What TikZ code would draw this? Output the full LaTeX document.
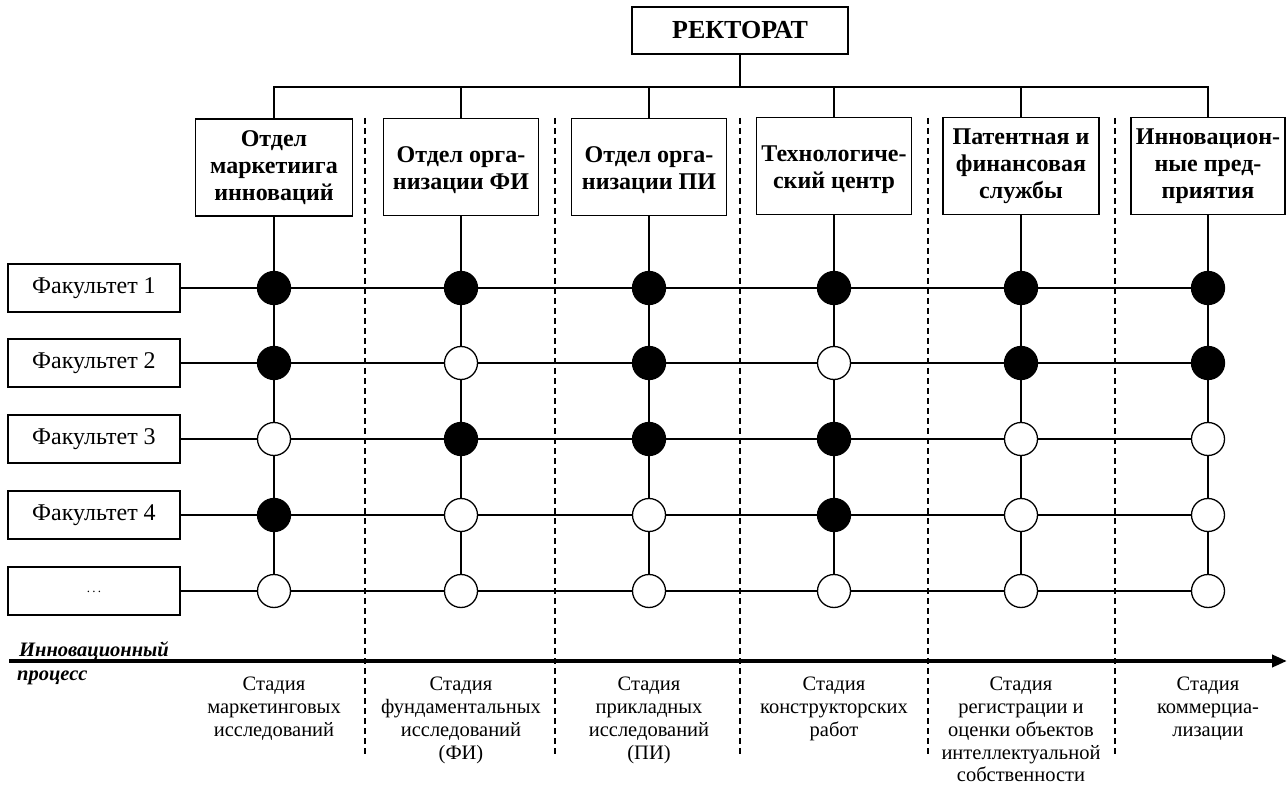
\documentclass[tikz,border=0pt]{standalone}
\usepackage{fontspec}
\setmainfont{Liberation Serif}
\usetikzlibrary{arrows.meta}
\newcommand\topstrut{\rule{0pt}{23pt}}
\begin{document}
\begin{tikzpicture}[x=1pt,y=-1pt,
  every node/.style={inner sep=0pt},
  hbox/.style={draw, line width=1.6pt, align=center, minimum height=97pt,
    font=\fontsize{24}{27}\selectfont\bfseries},
  fbox/.style={draw, line width=1.4pt, minimum width=172pt, minimum height=48pt,
    font=\fontsize{24}{28}\selectfont},
  dot/.style={circle, draw, line width=1.3pt, minimum size=33pt},
  full/.style={dot, fill=black},
  empty/.style={dot, fill=white},
  conn/.style={line width=1.3pt},
  sep/.style={line width=1.2pt, dash pattern=on 6pt off 4pt},
  stage/.style={align=center, anchor=north, font=\fontsize{20.5}{22.8}\selectfont},
  proc/.style={anchor=base west, font=\fontsize{20.5}{23}\selectfont\bfseries\itshape},
]
\useasboundingbox (0,0) rectangle (1288,786);

% rectorate
\node[draw, line width=1.6pt, minimum width=216pt, minimum height=47pt,
  font=\fontsize{26}{30}\selectfont\bfseries] (rek) at (740,30.5) {РЕКТОРАТ};

% department boxes
\node[hbox, minimum width=157pt] (h1) at (274,167.5) {Отдел\\маркетиига\\инноваций};
\node[hbox, minimum width=155pt] (h2) at (461,167) {\topstrut Отдел орга-\\низации ФИ};
\node[hbox, minimum width=155pt] (h3) at (649,167) {\topstrut Отдел орга-\\низации ПИ};
\node[hbox, minimum width=155pt] (h4) at (834,166) {\topstrut Технологиче-\\ский центр};
\node[hbox, minimum width=156pt] (h5) at (1021,166) {Патентная и\\финансовая\\службы};
\node[hbox, minimum width=154pt] (h6) at (1208,166) {Инновацион-\\ные пред-\\приятия};

% tree
\coordinate (bar) at (740,87);
\draw[conn] (rek) -- (bar);
\draw[conn] (h1.north) |- (bar) -| (h6.north);
\foreach \c in {2,...,5} \draw[conn] (h\c.north) -- (h\c.north |- bar);

% faculties
\node[fbox] (f1) at (94,288) {Факультет 1};
\node[fbox] (f2) at (94,363) {Факультет 2};
\node[fbox] (f3) at (94,439) {Факультет 3};
\node[fbox] (f4) at (94,515) {Факультет 4};
\node[fbox] (f5) at (94,591) {\fontsize{13}{15}\selectfont\raisebox{-3pt}{.\,.\,.}};

% separators
\foreach \x [count=\i] in {365,555,740,928,1115} {
  \coordinate (dt\i) at (\x,118);
  \coordinate (db\i) at (\x,757);
  \draw[sep] (dt\i) -- (db\i);
}

% dots
\foreach \r/\y/\pat in {1/288/{full,full,full,full,full,full},
                        2/363/{full,empty,full,empty,full,full},
                        3/439/{empty,full,full,full,empty,empty},
                        4/515/{full,empty,empty,full,empty,empty},
                        5/591/{empty,empty,empty,empty,empty,empty}} {
  \foreach \s [count=\c] in \pat {
    \pgfmathsetmacro\xx{{274,461,649,834,1021,1208}[\c-1]}
    \node[\s] (c\r\c) at (\xx,\y) {};
  }
}

% grid connectors
\foreach \r in {1,...,5}
  \draw[conn] (f\r) -- (c\r1) -- (c\r2) -- (c\r3) -- (c\r4) -- (c\r5) -- (c\r6);
\foreach \c in {1,...,6}
  \draw[conn] (h\c) -- (c1\c) -- (c2\c) -- (c3\c) -- (c4\c) -- (c5\c);

% process arrow
\coordinate (pa) at (9,661);
\coordinate (pb) at (1287,661);
\draw[line width=4pt, -{Triangle[length=15pt,width=12pt]}] (pa) -- (pb);
\node[proc] (ip1) at (19,656) {Инновационный};
\node[proc] (ip2) at (17,680) {процесс};

% stages
\node[stage] (s1) at (274,677) {Стадия\\маркетинговых\\исследований};
\node[stage] (s2) at (461,677) {Стадия\\фундаментальных\\исследований\\(ФИ)};
\node[stage] (s3) at (649,677) {Стадия\\прикладных\\исследований\\(ПИ)};
\node[stage] (s4) at (834,677) {Стадия\\конструкторских\\работ};
\node[stage] (s5) at (1021,677) {Стадия\\регистрации и\\оценки объектов\\интеллектуальной\\собственности};
\node[stage] (s6) at (1208,677) {Стадия\\коммерциа-\\лизации};
\end{tikzpicture}
\end{document}
